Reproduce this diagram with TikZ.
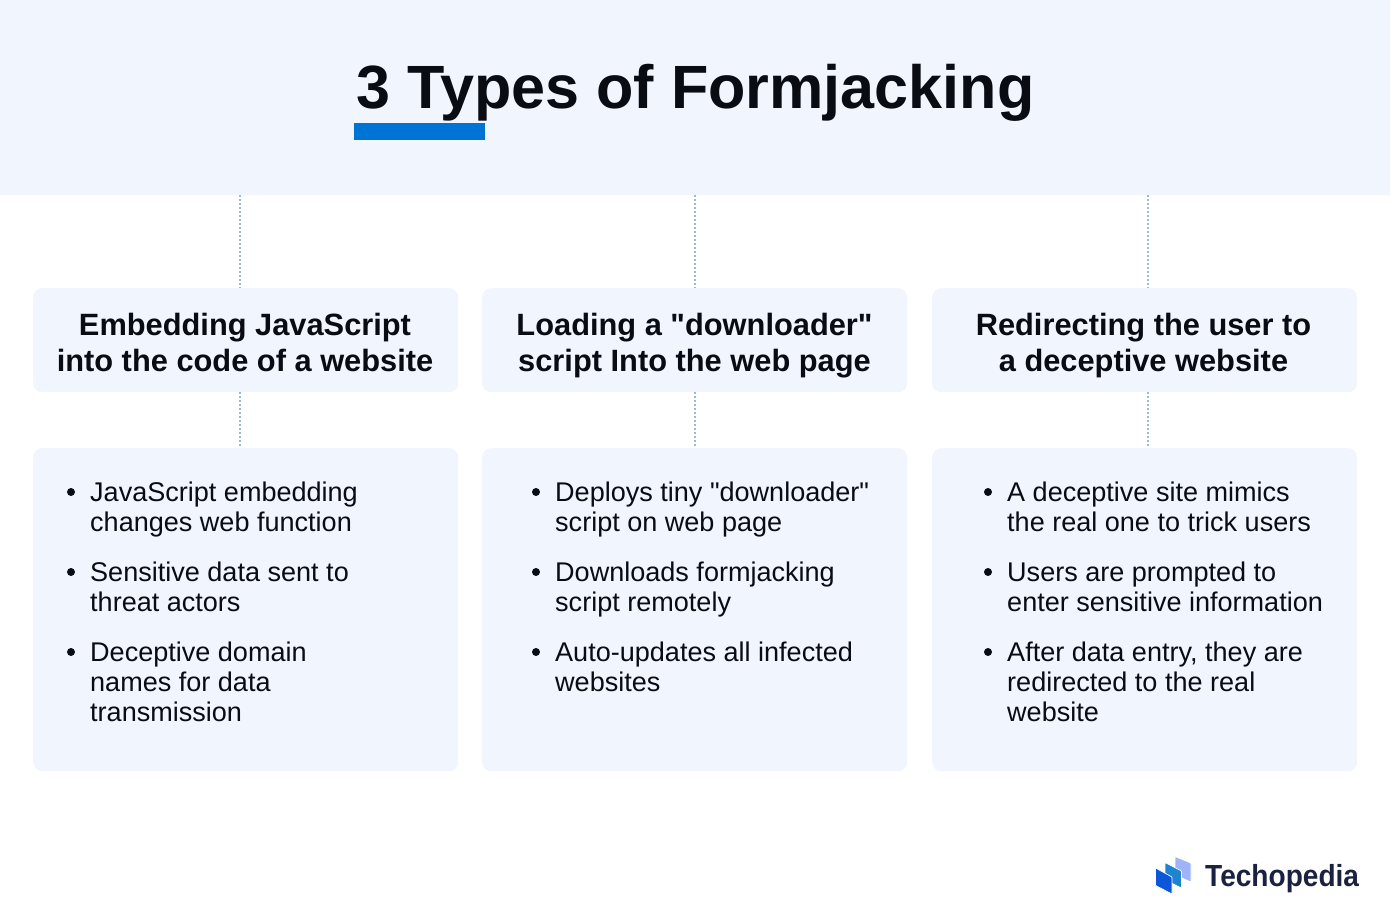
\documentclass[tikz,border=0pt]{standalone}
\usepackage{fontspec}
\setmainfont[Ligatures=TeXOff]{Liberation Sans}
\definecolor{panel}{HTML}{F0F5FE}
\definecolor{accent}{HTML}{0074D4}
\definecolor{ink}{HTML}{0A0C14}
\definecolor{dots}{HTML}{9DBBCF}
\definecolor{navy}{HTML}{1B2140}
\definecolor{logoA}{HTML}{0B57D8}
\definecolor{logoB}{HTML}{1F84D0}
\definecolor{logoC}{HTML}{9DB4FA}
\tikzset{
  cardbox/.style={fill=panel,draw=none,rounded corners=9pt,inner sep=0pt,anchor=north west},
  headtext/.style={font=\fontsize{30.8}{36}\selectfont\bfseries,text=ink,align=center,inner sep=0pt},
  itemtext/.style={font=\fontsize{27.05}{30}\selectfont,text=ink,align=left,inner sep=0pt,anchor=north west},
  bulletdot/.style={circle,fill=ink,draw=none,inner sep=0pt,minimum size=8pt},
  dotline/.style={draw=dots,line width=1.3pt,dash pattern=on 1.6pt off 2.4pt},
  logopart/.style={draw=white,line width=0.7pt,rounded corners=0.8pt},
}
\begin{document}
\begin{tikzpicture}[x=1pt,y=-1pt]
\useasboundingbox (0,0) rectangle (1390,917);
\fill[panel] (0,0) rectangle (1390,195);
\coordinate (bandA) at (240,195);
\coordinate (bandB) at (695,195);
\coordinate (bandC) at (1148,195);
\fill[accent] (354,123) rectangle (485,140);
\node[font=\fontsize{61.1}{70}\selectfont\bfseries,text=ink,inner sep=0pt] (title) at (695.5,93) {3 Types of Formjacking};

\node[cardbox,minimum width=425pt,minimum height=104pt] (headA) at (33,288) {};
\node[cardbox,minimum width=425pt,minimum height=104pt] (headB) at (482,288) {};
\node[cardbox,minimum width=425pt,minimum height=104pt] (headC) at (932,288) {};
\node[cardbox,minimum width=425pt,minimum height=323pt] (bodyA) at (33,448) {};
\node[cardbox,minimum width=425pt,minimum height=323pt] (bodyB) at (482,448) {};
\node[cardbox,minimum width=425pt,minimum height=323pt] (bodyC) at (932,448) {};

\draw[dotline] (bandA) -- (bandA |- headA.north);
\draw[dotline] (bandB) -- (bandB |- headB.north);
\draw[dotline] (bandC) -- (bandC |- headC.north);
\draw[dotline] (bandA |- headA.south) -- (bandA |- bodyA.north);
\draw[dotline] (bandB |- headB.south) -- (bandB |- bodyB.north);
\draw[dotline] (bandC |- headC.south) -- (bandC |- bodyC.north);

\node[headtext] (htA) at (245,342) {Embedding JavaScript\\into the code of a website};
\node[headtext] (htB) at (694.5,346) {Loading a "downloader"\\script Into the web page};
\node[headtext] (htC) at (1143.5,346) {Redirecting the user to\\a deceptive website};

\node[bulletdot] (b1) at (71,492) {};
\node[itemtext] (t1) at (90,482) {JavaScript embedding\\changes web function};
\node[bulletdot] (b2) at (71,572) {};
\node[itemtext] (t2) at (90,562) {Sensitive data sent to\\threat actors};
\node[bulletdot] (b3) at (71,652) {};
\node[itemtext] (t3) at (90,642) {Deceptive domain\\names for data\\transmission};

\node[bulletdot] (b4) at (536,492) {};
\node[itemtext] (t4) at (555,482) {Deploys tiny "downloader"\\script on web page};
\node[bulletdot] (b5) at (536,572) {};
\node[itemtext] (t5) at (555,562) {Downloads formjacking\\script remotely};
\node[bulletdot] (b6) at (536,652) {};
\node[itemtext] (t6) at (555,642) {Auto-updates all infected\\websites};

\node[bulletdot] (b7) at (988,492) {};
\node[itemtext] (t7) at (1007,482) {A deceptive site mimics\\the real one to trick users};
\node[bulletdot] (b8) at (988,572) {};
\node[itemtext] (t8) at (1007,562) {Users are prompted to\\enter sensitive information};
\node[bulletdot] (b9) at (988,652) {};
\node[itemtext] (t9) at (1007,642) {After data entry, they are\\redirected to the real\\website};

\filldraw[logoC,logopart] (1175,856.5) -- (1191,863) -- (1191,882) -- (1175,875) -- cycle;
\filldraw[logoB,logopart] (1165,862.5) -- (1181.5,871) -- (1181.5,888) -- (1165,880) -- cycle;
\filldraw[logoA,logopart] (1155.5,868) -- (1172,877) -- (1172,894) -- (1155.5,885.5) -- cycle;
\node[font=\fontsize{30.5}{34}\selectfont\bfseries,text=navy,inner sep=0pt,anchor=west] (brand) at (1205,878.5) {\scalebox{0.92}[1]{Techopedia}};
\end{tikzpicture}
\end{document}
